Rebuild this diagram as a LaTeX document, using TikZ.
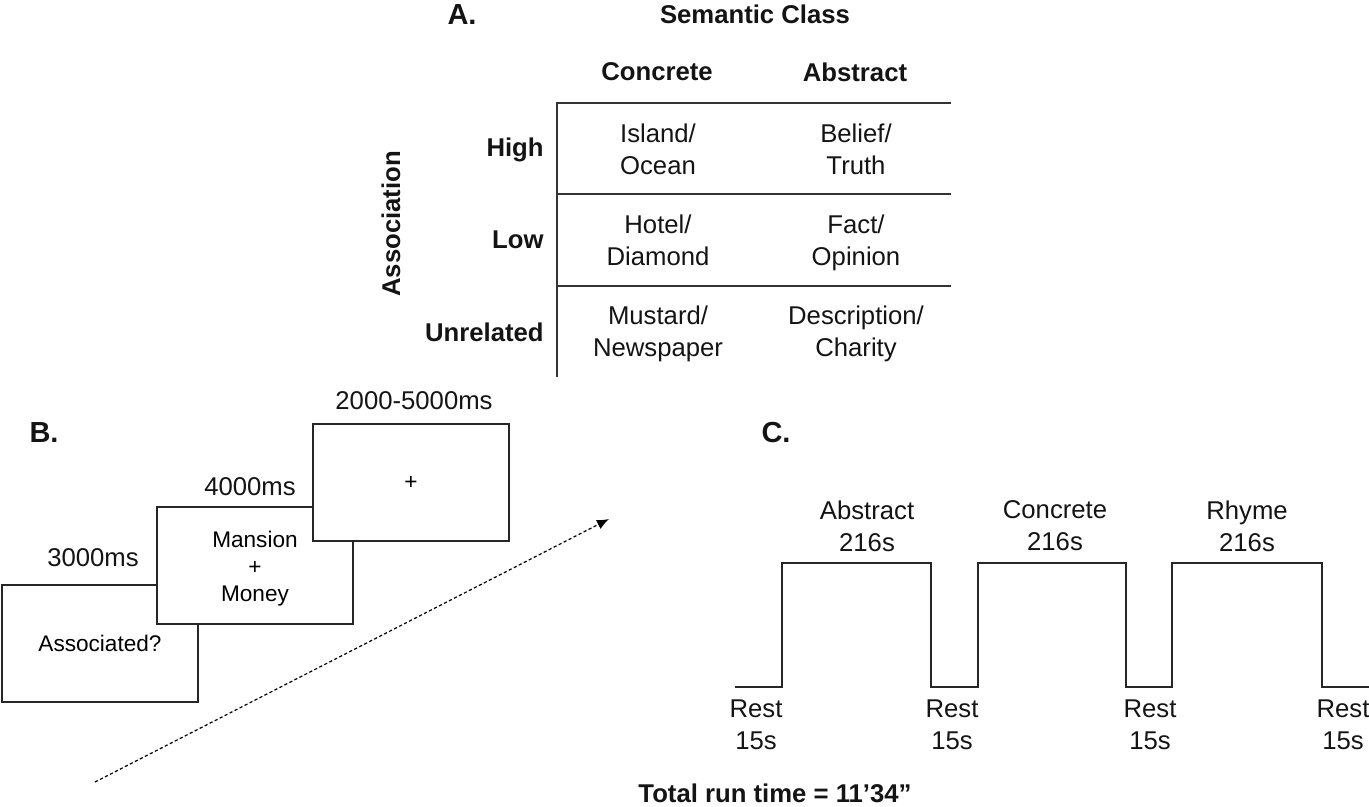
\documentclass[tikz,border=0pt]{standalone}
\usepackage{fontspec}
\setmainfont{Liberation Sans}
\usetikzlibrary{arrows.meta}
\begin{document}
\begin{tikzpicture}[x=0.5pt,y=-0.5pt,
  txt/.style={inner sep=0pt, align=center, text=black!92, font=\fontsize{12.85pt}{16pt}\selectfont},
  hdr/.style={inner sep=0pt, align=center, text=black!92, font=\fontsize{12.85pt}{16pt}\selectfont\bfseries},
  panel/.style={inner sep=0pt, text=black!92, font=\fontsize{14.5pt}{17pt}\selectfont\bfseries},
  stimbox/.style={draw=black!85, fill=white, line width=1pt, minimum width=98pt, minimum height=58.5pt, inner sep=0pt, align=center, font=\fontsize{11.3pt}{13.5pt}\selectfont},
  rule/.style={line width=1pt, draw=black!80},
  wave/.style={line width=1pt, draw=black!85},
  timearrow/.style={line width=0.6pt, dash pattern=on 1.6pt off 1.2pt, -{Latex[length=6pt,width=5pt]}}
]
\useasboundingbox (0,0) rectangle (1369,807);

% ---------- Panel A ----------
\node[panel] (A) at (462,15) {A.};
\node[hdr] (sem) at (755,14) {Semantic Class};
\node[hdr] (cconc) at (657,72) {Concrete};
\node[hdr] (cabs) at (855,72) {Abstract};
\node[hdr, rotate=90] (assoc) at (391,224) {Association};
\node[hdr, anchor=east] (rhigh) at (544,150) {High};
\node[hdr, anchor=east] (rlow) at (544,240) {Low};
\node[hdr, anchor=east] (runrel) at (544,332) {Unrelated};

\coordinate (t0) at (557,103);
\coordinate (t0e) at (951,103);
\coordinate (t1) at (557,194);
\coordinate (t1e) at (951,194);
\coordinate (t2) at (557,286);
\coordinate (t2e) at (951,286);
\coordinate (tb) at (557,377);
\draw[rule] (t0e) -- (t0) -- (tb);
\draw[rule] (t1) -- (t1e);
\draw[rule] (t2) -- (t2e);

\node[txt] (c11) at (658,149) {Island/\\Ocean};
\node[txt] (c12) at (856,149) {Belief/\\Truth};
\node[txt] (c21) at (658,240) {Hotel/\\Diamond};
\node[txt] (c22) at (856,243) {Fact/\\Opinion};
\node[txt] (c31) at (658,333.5) {Mustard/\\Newspaper};
\node[txt] (c32) at (856,333.5) {Description/\\Charity};

% ---------- Panel B ----------
\node[panel] (B) at (44,433) {B.};
\node[stimbox] (s1) at (100,643.5) {Associated?};
\node[stimbox] (s2) at (255,565.5) {\rule{0pt}{11.1pt}Mansion\\+\\Money};
\node[stimbox] (s3) at (411,482.5) {+};
\node[txt] (l1) at (93,558) {3000ms};
\node[txt] (l2) at (250,487) {4000ms};
\node[txt] (l3) at (414,401) {2000-5000ms};
\coordinate (ta) at (95,782);
\coordinate (tz) at (609,519);
\draw[timearrow] (ta) -- (tz);

% ---------- Panel C ----------
\node[panel] (C) at (776,433) {C.};
\draw[wave] (735,687) -- (782,687) -- (782,563) -- (931,563) -- (931,687)
  -- (978,687) -- (978,563) -- (1126,563) -- (1126,687)
  -- (1172,687) -- (1172,563) -- (1322,563) -- (1322,687) -- (1369,687);
\node[txt] (bA) at (867,526) {Abstract\\216s};
\node[txt] (bC) at (1055,526) {Concrete\\216s};
\node[txt] (bR) at (1247,526) {Rhyme\\216s};
\node[txt] (r1) at (756,725) {Rest\\15s};
\node[txt] (r2) at (952,725) {Rest\\15s};
\node[txt] (r3) at (1150,725) {Rest\\15s};
\node[txt] (r4) at (1343,725) {Rest\\15s};
\node[hdr] (total) at (775,793) {Total run time = 11’34”};
\end{tikzpicture}
\end{document}
